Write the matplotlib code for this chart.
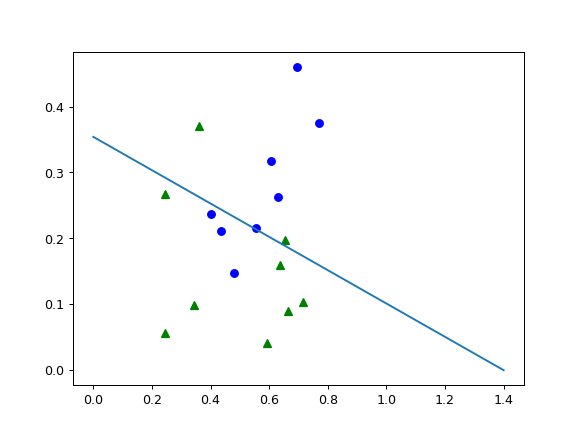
import numpy as np
import matplotlib
matplotlib.use("Agg")
import matplotlib.pyplot as plt

blue_x = [0.695, 0.77, 0.606, 0.63, 0.403, 0.554, 0.437, 0.48]
blue_y = [0.460, 0.375, 0.318, 0.263, 0.237, 0.215, 0.211, 0.148]
green_x = [0.36, 0.246, 0.655, 0.637, 0.342, 0.717, 0.665, 0.246, 0.591]
green_y = [0.370, 0.267, 0.197, 0.160, 0.099, 0.103, 0.090, 0.056, 0.041]
line_x = [0.0, 1.4]
line_y = [0.354, 0.0]

plt.figure(figsize=(6.4, 4.76), dpi=91)
plt.plot(blue_x, blue_y, 'bo')
plt.plot(green_x, green_y, 'g^')
plt.plot(line_x, line_y)
plt.savefig("out.png")
plt.close()
